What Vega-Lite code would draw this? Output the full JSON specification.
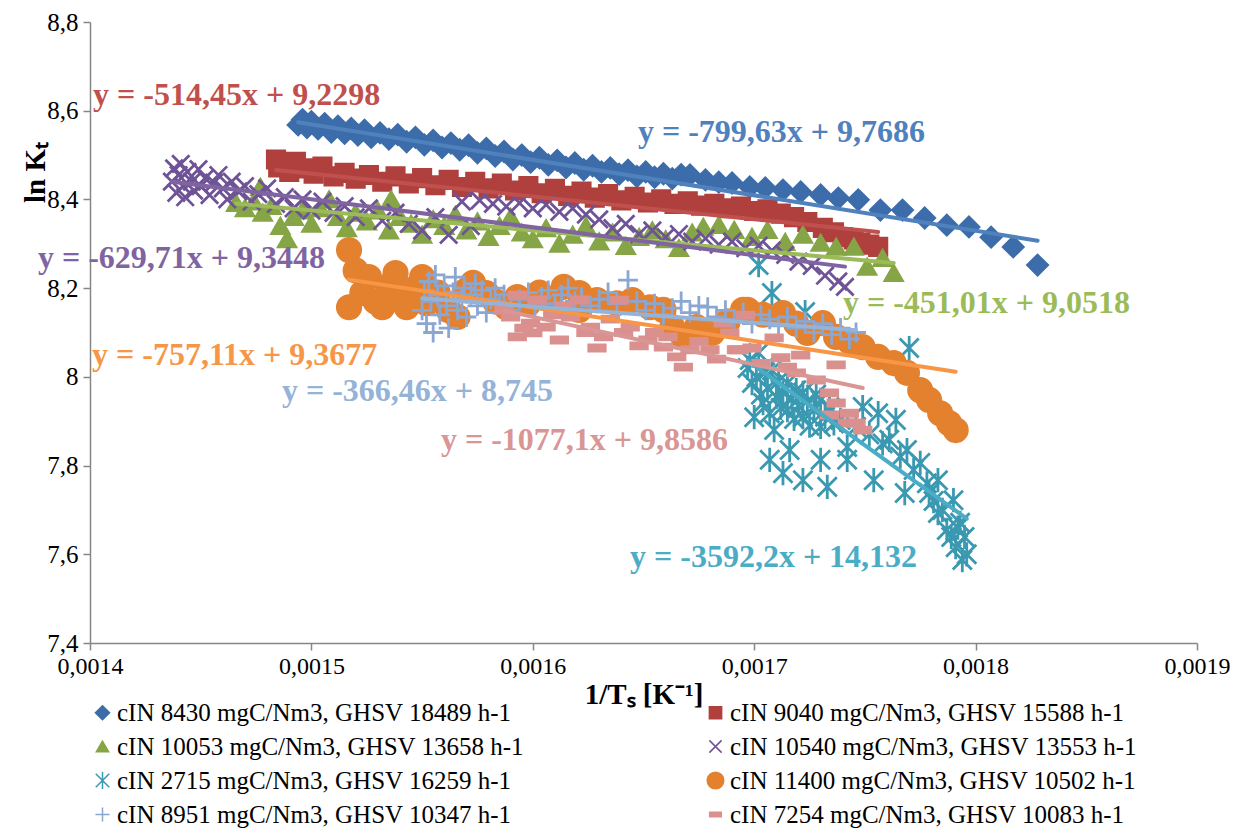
{
"$schema":"https://vega.github.io/schema/vega-lite/v6.json",
"width":1107,"height":621,
"autosize":{"type":"none"},
"padding":{"left":90,"top":22,"right":38,"bottom":191},
"background":"white",
"config":{"view":{"stroke":null},"font":"Liberation Serif, Times New Roman, serif"},
"datasets":{
"names":[{"s":1,"series":"cIN 8430 mgC/Nm3, GHSV 18489 h-1"},{"s":2,"series":"cIN 9040 mgC/Nm3, GHSV 15588 h-1"},{"s":3,"series":"cIN 10053 mgC/Nm3, GHSV 13658 h-1"},{"s":4,"series":"cIN 10540 mgC/Nm3, GHSV 13553 h-1"},{"s":5,"series":"cIN 2715 mgC/Nm3, GHSV 16259 h-1"},{"s":6,"series":"cIN 11400 mgC/Nm3, GHSV 10502 h-1"},{"s":7,"series":"cIN 8951 mgC/Nm3, GHSV 10347 h-1"},{"s":8,"series":"cIN 7254 mgC/Nm3, GHSV 10083 h-1"}],
"pts":[
{"s":1,"x":0.001494,"y":8.568},{"s":1,"x":0.001496,"y":8.580},{"s":1,"x":0.001498,"y":8.562},{"s":1,"x":0.0015,"y":8.575},{"s":1,"x":0.001503,"y":8.559},{"s":1,"x":0.001506,"y":8.571},{"s":1,"x":0.001509,"y":8.552},{"s":1,"x":0.001512,"y":8.565},{"s":1,"x":0.001515,"y":8.549},{"s":1,"x":0.001518,"y":8.560},{"s":1,"x":0.001521,"y":8.545},{"s":1,"x":0.001524,"y":8.556},{"s":1,"x":0.001527,"y":8.540},{"s":1,"x":0.001531,"y":8.550},{"s":1,"x":0.001535,"y":8.536},{"s":1,"x":0.001539,"y":8.546},{"s":1,"x":0.001543,"y":8.530},{"s":1,"x":0.001547,"y":8.540},{"s":1,"x":0.001551,"y":8.523},{"s":1,"x":0.001555,"y":8.533},{"s":1,"x":0.001559,"y":8.517},{"s":1,"x":0.001563,"y":8.527},{"s":1,"x":0.001567,"y":8.512},{"s":1,"x":0.001571,"y":8.522},{"s":1,"x":0.001575,"y":8.505},{"s":1,"x":0.001579,"y":8.515},{"s":1,"x":0.001583,"y":8.498},{"s":1,"x":0.001587,"y":8.508},{"s":1,"x":0.001591,"y":8.490},{"s":1,"x":0.001595,"y":8.500},{"s":1,"x":0.001599,"y":8.484},{"s":1,"x":0.001603,"y":8.494},{"s":1,"x":0.001607,"y":8.478},{"s":1,"x":0.001611,"y":8.488},{"s":1,"x":0.001615,"y":8.472},{"s":1,"x":0.001619,"y":8.482},{"s":1,"x":0.001623,"y":8.467},{"s":1,"x":0.001627,"y":8.476},{"s":1,"x":0.001631,"y":8.462},{"s":1,"x":0.001635,"y":8.471},{"s":1,"x":0.001639,"y":8.457},{"s":1,"x":0.001643,"y":8.466},{"s":1,"x":0.001647,"y":8.452},{"s":1,"x":0.001651,"y":8.462},{"s":1,"x":0.001655,"y":8.450},{"s":1,"x":0.001659,"y":8.458},{"s":1,"x":0.001663,"y":8.447},{"s":1,"x":0.001667,"y":8.456},{"s":1,"x":0.001671,"y":8.455},{"s":1,"x":0.001678,"y":8.444},{"s":1,"x":0.001684,"y":8.439},{"s":1,"x":0.00169,"y":8.437},{"s":1,"x":0.001698,"y":8.428},{"s":1,"x":0.001705,"y":8.426},{"s":1,"x":0.001713,"y":8.421},{"s":1,"x":0.001721,"y":8.417},{"s":1,"x":0.00173,"y":8.410},{"s":1,"x":0.001738,"y":8.403},{"s":1,"x":0.001747,"y":8.399},{"s":1,"x":0.001757,"y":8.376},{"s":1,"x":0.001767,"y":8.376},{"s":1,"x":0.001777,"y":8.358},{"s":1,"x":0.001787,"y":8.342},{"s":1,"x":0.001797,"y":8.338},{"s":1,"x":0.001807,"y":8.315},{"s":1,"x":0.001817,"y":8.293},{"s":1,"x":0.001828,"y":8.252},
{"s":2,"x":0.001484,"y":8.490},{"s":2,"x":0.001485,"y":8.472},{"s":2,"x":0.001487,"y":8.480},{"s":2,"x":0.00149,"y":8.462},{"s":2,"x":0.001493,"y":8.485},{"s":2,"x":0.001497,"y":8.470},{"s":2,"x":0.001501,"y":8.458},{"s":2,"x":0.001505,"y":8.474},{"s":2,"x":0.00151,"y":8.452},{"s":2,"x":0.001515,"y":8.460},{"s":2,"x":0.00152,"y":8.447},{"s":2,"x":0.001526,"y":8.455},{"s":2,"x":0.001532,"y":8.440},{"s":2,"x":0.001538,"y":8.452},{"s":2,"x":0.001544,"y":8.436},{"s":2,"x":0.00155,"y":8.448},{"s":2,"x":0.001556,"y":8.432},{"s":2,"x":0.001562,"y":8.444},{"s":2,"x":0.001568,"y":8.428},{"s":2,"x":0.001574,"y":8.440},{"s":2,"x":0.00158,"y":8.425},{"s":2,"x":0.001586,"y":8.436},{"s":2,"x":0.001592,"y":8.420},{"s":2,"x":0.001598,"y":8.430},{"s":2,"x":0.001604,"y":8.414},{"s":2,"x":0.00161,"y":8.424},{"s":2,"x":0.001616,"y":8.408},{"s":2,"x":0.001622,"y":8.418},{"s":2,"x":0.001628,"y":8.404},{"s":2,"x":0.001634,"y":8.412},{"s":2,"x":0.00164,"y":8.398},{"s":2,"x":0.001646,"y":8.406},{"s":2,"x":0.001652,"y":8.393},{"s":2,"x":0.001658,"y":8.400},{"s":2,"x":0.001664,"y":8.390},{"s":2,"x":0.00167,"y":8.396},{"s":2,"x":0.001676,"y":8.386},{"s":2,"x":0.001682,"y":8.390},{"s":2,"x":0.001688,"y":8.380},{"s":2,"x":0.001694,"y":8.384},{"s":2,"x":0.0017,"y":8.374},{"s":2,"x":0.001706,"y":8.378},{"s":2,"x":0.001712,"y":8.368},{"s":2,"x":0.001718,"y":8.360},{"s":2,"x":0.001724,"y":8.349},{"s":2,"x":0.001731,"y":8.336},{"s":2,"x":0.001736,"y":8.326},{"s":2,"x":0.00174,"y":8.315},{"s":2,"x":0.001745,"y":8.310},{"s":2,"x":0.001748,"y":8.302},{"s":2,"x":0.001752,"y":8.298},{"s":2,"x":0.001756,"y":8.293},
{"s":3,"x":0.001466,"y":8.392},{"s":3,"x":0.00147,"y":8.380},{"s":3,"x":0.001474,"y":8.395},{"s":3,"x":0.001477,"y":8.428},{"s":3,"x":0.001478,"y":8.370},{"s":3,"x":0.001482,"y":8.385},{"s":3,"x":0.001486,"y":8.340},{"s":3,"x":0.001489,"y":8.310},{"s":3,"x":0.001492,"y":8.360},{"s":3,"x":0.001496,"y":8.375},{"s":3,"x":0.0015,"y":8.345},{"s":3,"x":0.001504,"y":8.380},{"s":3,"x":0.001508,"y":8.400},{"s":3,"x":0.001512,"y":8.360},{"s":3,"x":0.001516,"y":8.335},{"s":3,"x":0.00152,"y":8.370},{"s":3,"x":0.001525,"y":8.350},{"s":3,"x":0.00153,"y":8.375},{"s":3,"x":0.001535,"y":8.330},{"s":3,"x":0.001536,"y":8.400},{"s":3,"x":0.00154,"y":8.360},{"s":3,"x":0.001545,"y":8.345},{"s":3,"x":0.00155,"y":8.320},{"s":3,"x":0.001555,"y":8.355},{"s":3,"x":0.00156,"y":8.340},{"s":3,"x":0.001565,"y":8.365},{"s":3,"x":0.00157,"y":8.330},{"s":3,"x":0.001575,"y":8.350},{"s":3,"x":0.00158,"y":8.315},{"s":3,"x":0.001585,"y":8.340},{"s":3,"x":0.00159,"y":8.360},{"s":3,"x":0.001595,"y":8.325},{"s":3,"x":0.0016,"y":8.310},{"s":3,"x":0.001606,"y":8.335},{"s":3,"x":0.001612,"y":8.300},{"s":3,"x":0.001618,"y":8.320},{"s":3,"x":0.001624,"y":8.340},{"s":3,"x":0.00163,"y":8.305},{"s":3,"x":0.001636,"y":8.325},{"s":3,"x":0.001642,"y":8.295},{"s":3,"x":0.001648,"y":8.315},{"s":3,"x":0.001654,"y":8.330},{"s":3,"x":0.00166,"y":8.310},{"s":3,"x":0.001666,"y":8.290},{"s":3,"x":0.001672,"y":8.325},{"s":3,"x":0.001677,"y":8.338},{"s":3,"x":0.001684,"y":8.342},{"s":3,"x":0.001691,"y":8.331},{"s":3,"x":0.001699,"y":8.315},{"s":3,"x":0.001706,"y":8.331},{"s":3,"x":0.001714,"y":8.304},{"s":3,"x":0.001722,"y":8.320},{"s":3,"x":0.00173,"y":8.302},{"s":3,"x":0.001737,"y":8.293},{"s":3,"x":0.001745,"y":8.293},{"s":3,"x":0.001751,"y":8.248},{"s":3,"x":0.001758,"y":8.268},{"s":3,"x":0.001763,"y":8.234},
{"s":4,"x":0.001437,"y":8.440},{"s":4,"x":0.001438,"y":8.470},{"s":4,"x":0.001439,"y":8.415},{"s":4,"x":0.00144,"y":8.455},{"s":4,"x":0.001441,"y":8.480},{"s":4,"x":0.001442,"y":8.430},{"s":4,"x":0.001443,"y":8.405},{"s":4,"x":0.001444,"y":8.462},{"s":4,"x":0.001446,"y":8.440},{"s":4,"x":0.001447,"y":8.420},{"s":4,"x":0.001449,"y":8.468},{"s":4,"x":0.00145,"y":8.430},{"s":4,"x":0.001452,"y":8.448},{"s":4,"x":0.001454,"y":8.410},{"s":4,"x":0.001456,"y":8.438},{"s":4,"x":0.001458,"y":8.455},{"s":4,"x":0.00146,"y":8.425},{"s":4,"x":0.001462,"y":8.400},{"s":4,"x":0.001464,"y":8.440},{"s":4,"x":0.001467,"y":8.418},{"s":4,"x":0.00147,"y":8.430},{"s":4,"x":0.001473,"y":8.395},{"s":4,"x":0.001476,"y":8.412},{"s":4,"x":0.00148,"y":8.425},{"s":4,"x":0.001484,"y":8.390},{"s":4,"x":0.001488,"y":8.405},{"s":4,"x":0.001492,"y":8.380},{"s":4,"x":0.001496,"y":8.400},{"s":4,"x":0.0015,"y":8.375},{"s":4,"x":0.001505,"y":8.395},{"s":4,"x":0.00151,"y":8.370},{"s":4,"x":0.001515,"y":8.385},{"s":4,"x":0.00152,"y":8.360},{"s":4,"x":0.001526,"y":8.380},{"s":4,"x":0.001532,"y":8.352},{"s":4,"x":0.001538,"y":8.370},{"s":4,"x":0.001544,"y":8.345},{"s":4,"x":0.00155,"y":8.330},{"s":4,"x":0.001556,"y":8.360},{"s":4,"x":0.001562,"y":8.320},{"s":4,"x":0.001568,"y":8.395},{"s":4,"x":0.001572,"y":8.340},{"s":4,"x":0.001576,"y":8.398},{"s":4,"x":0.001582,"y":8.390},{"s":4,"x":0.001588,"y":8.384},{"s":4,"x":0.001594,"y":8.392},{"s":4,"x":0.0016,"y":8.380},{"s":4,"x":0.001606,"y":8.388},{"s":4,"x":0.001612,"y":8.372},{"s":4,"x":0.001618,"y":8.380},{"s":4,"x":0.001624,"y":8.366},{"s":4,"x":0.00163,"y":8.355},{"s":4,"x":0.001636,"y":8.335},{"s":4,"x":0.001642,"y":8.345},{"s":4,"x":0.001648,"y":8.322},{"s":4,"x":0.001654,"y":8.330},{"s":4,"x":0.00166,"y":8.315},{"s":4,"x":0.001666,"y":8.322},{"s":4,"x":0.001672,"y":8.305},{"s":4,"x":0.001678,"y":8.312},{"s":4,"x":0.001684,"y":8.298},{"s":4,"x":0.00169,"y":8.305},{"s":4,"x":0.001696,"y":8.290},{"s":4,"x":0.001702,"y":8.296},{"s":4,"x":0.001708,"y":8.285},{"s":4,"x":0.001714,"y":8.275},{"s":4,"x":0.00172,"y":8.260},{"s":4,"x":0.001726,"y":8.250},{"s":4,"x":0.001732,"y":8.228},{"s":4,"x":0.001738,"y":8.215},{"s":4,"x":0.001741,"y":8.203},
{"s":5,"x":0.001702,"y":8.252},{"s":5,"x":0.001708,"y":8.189},{"s":5,"x":0.001723,"y":8.146},{"s":5,"x":0.00177,"y":8.065},{"s":5,"x":0.001697,"y":8.020},{"s":5,"x":0.001698,"y":8.038},{"s":5,"x":0.001699,"y":7.986},{"s":5,"x":0.0017,"y":7.909},{"s":5,"x":0.001701,"y":8.000},{"s":5,"x":0.001702,"y":8.054},{"s":5,"x":0.001703,"y":7.960},{"s":5,"x":0.001704,"y":7.941},{"s":5,"x":0.001705,"y":8.010},{"s":5,"x":0.001706,"y":7.975},{"s":5,"x":0.001707,"y":7.918},{"s":5,"x":0.001708,"y":8.015},{"s":5,"x":0.001709,"y":7.880},{"s":5,"x":0.00171,"y":7.955},{"s":5,"x":0.001711,"y":7.990},{"s":5,"x":0.001712,"y":7.930},{"s":5,"x":0.001713,"y":7.965},{"s":5,"x":0.001715,"y":7.986},{"s":5,"x":0.001715,"y":7.925},{"s":5,"x":0.001716,"y":7.835},{"s":5,"x":0.001717,"y":7.950},{"s":5,"x":0.001718,"y":7.905},{"s":5,"x":0.001719,"y":7.970},{"s":5,"x":0.00172,"y":7.935},{"s":5,"x":0.001722,"y":7.964},{"s":5,"x":0.001722,"y":7.909},{"s":5,"x":0.001724,"y":7.945},{"s":5,"x":0.001725,"y":7.890},{"s":5,"x":0.001727,"y":7.925},{"s":5,"x":0.001728,"y":7.960},{"s":5,"x":0.00173,"y":7.948},{"s":5,"x":0.00173,"y":7.887},{"s":5,"x":0.00173,"y":7.813},{"s":5,"x":0.001732,"y":7.910},{"s":5,"x":0.001734,"y":7.932},{"s":5,"x":0.001736,"y":7.895},{"s":5,"x":0.001739,"y":7.903},{"s":5,"x":0.001742,"y":7.842},{"s":5,"x":0.001742,"y":7.813},{"s":5,"x":0.001746,"y":7.887},{"s":5,"x":0.001749,"y":7.932},{"s":5,"x":0.001752,"y":7.870},{"s":5,"x":0.001754,"y":7.767},{"s":5,"x":0.001756,"y":7.918},{"s":5,"x":0.001758,"y":7.850},{"s":5,"x":0.001761,"y":7.858},{"s":5,"x":0.001764,"y":7.903},{"s":5,"x":0.001766,"y":7.820},{"s":5,"x":0.001768,"y":7.738},{"s":5,"x":0.001769,"y":7.835},{"s":5,"x":0.001772,"y":7.790},{"s":5,"x":0.001775,"y":7.806},{"s":5,"x":0.001778,"y":7.760},{"s":5,"x":0.001779,"y":7.738},{"s":5,"x":0.001781,"y":7.720},{"s":5,"x":0.001783,"y":7.767},{"s":5,"x":0.001783,"y":7.693},{"s":5,"x":0.001785,"y":7.700},{"s":5,"x":0.001787,"y":7.655},{"s":5,"x":0.001789,"y":7.639},{"s":5,"x":0.00179,"y":7.722},{"s":5,"x":0.001791,"y":7.616},{"s":5,"x":0.001792,"y":7.660},{"s":5,"x":0.001793,"y":7.671},{"s":5,"x":0.001794,"y":7.587},{"s":5,"x":0.001795,"y":7.639},{"s":5,"x":0.001796,"y":7.600},{"s":5,"x":0.001707,"y":7.813},{"s":5,"x":0.001713,"y":7.783},{"s":5,"x":0.001722,"y":7.767},{"s":5,"x":0.001733,"y":7.752},
{"s":6,"x":0.001517,"y":8.286},{"s":6,"x":0.001517,"y":8.157},{"s":6,"x":0.00152,"y":8.240},{"s":6,"x":0.001523,"y":8.189},{"s":6,"x":0.001526,"y":8.225},{"s":6,"x":0.001529,"y":8.170},{"s":6,"x":0.001532,"y":8.157},{"s":6,"x":0.001535,"y":8.205},{"s":6,"x":0.001538,"y":8.234},{"s":6,"x":0.001541,"y":8.185},{"s":6,"x":0.001543,"y":8.157},{"s":6,"x":0.001547,"y":8.200},{"s":6,"x":0.00155,"y":8.225},{"s":6,"x":0.001552,"y":8.166},{"s":6,"x":0.001557,"y":8.190},{"s":6,"x":0.001562,"y":8.150},{"s":6,"x":0.001566,"y":8.135},{"s":6,"x":0.00157,"y":8.195},{"s":6,"x":0.001573,"y":8.212},{"s":6,"x":0.001579,"y":8.189},{"s":6,"x":0.001583,"y":8.170},{"s":6,"x":0.001588,"y":8.157},{"s":6,"x":0.001593,"y":8.180},{"s":6,"x":0.001598,"y":8.165},{"s":6,"x":0.001603,"y":8.190},{"s":6,"x":0.001608,"y":8.175},{"s":6,"x":0.001614,"y":8.203},{"s":6,"x":0.001621,"y":8.189},{"s":6,"x":0.001621,"y":8.151},{"s":6,"x":0.001629,"y":8.173},{"s":6,"x":0.001638,"y":8.166},{"s":6,"x":0.001645,"y":8.173},{"s":6,"x":0.001653,"y":8.157},{"s":6,"x":0.001659,"y":8.151},{"s":6,"x":0.001663,"y":8.112},{"s":6,"x":0.001668,"y":8.090},{"s":6,"x":0.001674,"y":8.112},{"s":6,"x":0.001681,"y":8.099},{"s":6,"x":0.001688,"y":8.125},{"s":6,"x":0.001695,"y":8.151},{"s":6,"x":0.001697,"y":8.151},{"s":6,"x":0.001704,"y":8.140},{"s":6,"x":0.001713,"y":8.144},{"s":6,"x":0.001719,"y":8.120},{"s":6,"x":0.001724,"y":8.099},{"s":6,"x":0.001731,"y":8.121},{"s":6,"x":0.001737,"y":8.090},{"s":6,"x":0.001743,"y":8.080},{"s":6,"x":0.001749,"y":8.067},{"s":6,"x":0.001756,"y":8.045},{"s":6,"x":0.001763,"y":8.031},{"s":6,"x":0.001769,"y":8.009},{"s":6,"x":0.001775,"y":7.970},{"s":6,"x":0.001779,"y":7.948},{"s":6,"x":0.001784,"y":7.918},{"s":6,"x":0.001788,"y":7.896},{"s":6,"x":0.001791,"y":7.880},
{"s":7,"x":0.00155,"y":8.150},{"s":7,"x":0.001551,"y":8.195},{"s":7,"x":0.001552,"y":8.120},{"s":7,"x":0.001553,"y":8.215},{"s":7,"x":0.001554,"y":8.170},{"s":7,"x":0.001555,"y":8.100},{"s":7,"x":0.001556,"y":8.230},{"s":7,"x":0.001557,"y":8.185},{"s":7,"x":0.001558,"y":8.140},{"s":7,"x":0.00156,"y":8.205},{"s":7,"x":0.001561,"y":8.160},{"s":7,"x":0.001562,"y":8.110},{"s":7,"x":0.001564,"y":8.190},{"s":7,"x":0.001565,"y":8.225},{"s":7,"x":0.001566,"y":8.150},{"s":7,"x":0.001568,"y":8.175},{"s":7,"x":0.001569,"y":8.200},{"s":7,"x":0.00157,"y":8.135},{"s":7,"x":0.001572,"y":8.185},{"s":7,"x":0.001574,"y":8.210},{"s":7,"x":0.001575,"y":8.160},{"s":7,"x":0.001577,"y":8.195},{"s":7,"x":0.001579,"y":8.145},{"s":7,"x":0.001581,"y":8.175},{"s":7,"x":0.001583,"y":8.200},{"s":7,"x":0.001585,"y":8.165},{"s":7,"x":0.001587,"y":8.185},{"s":7,"x":0.00159,"y":8.150},{"s":7,"x":0.001594,"y":8.175},{"s":7,"x":0.001598,"y":8.190},{"s":7,"x":0.001601,"y":8.160},{"s":7,"x":0.001604,"y":8.180},{"s":7,"x":0.001607,"y":8.195},{"s":7,"x":0.00161,"y":8.165},{"s":7,"x":0.001613,"y":8.185},{"s":7,"x":0.001616,"y":8.200},{"s":7,"x":0.001619,"y":8.170},{"s":7,"x":0.001622,"y":8.180},{"s":7,"x":0.001626,"y":8.160},{"s":7,"x":0.00163,"y":8.175},{"s":7,"x":0.001634,"y":8.190},{"s":7,"x":0.001638,"y":8.165},{"s":7,"x":0.001643,"y":8.218},{"s":7,"x":0.001647,"y":8.170},{"s":7,"x":0.001651,"y":8.150},{"s":7,"x":0.001655,"y":8.165},{"s":7,"x":0.001659,"y":8.140},{"s":7,"x":0.001663,"y":8.155},{"s":7,"x":0.001667,"y":8.170},{"s":7,"x":0.001671,"y":8.145},{"s":7,"x":0.001675,"y":8.160},{"s":7,"x":0.001679,"y":8.157},{"s":7,"x":0.001683,"y":8.135},{"s":7,"x":0.001687,"y":8.150},{"s":7,"x":0.001691,"y":8.130},{"s":7,"x":0.001695,"y":8.145},{"s":7,"x":0.001699,"y":8.120},{"s":7,"x":0.001703,"y":8.140},{"s":7,"x":0.001707,"y":8.130},{"s":7,"x":0.001711,"y":8.115},{"s":7,"x":0.001715,"y":8.135},{"s":7,"x":0.001719,"y":8.110},{"s":7,"x":0.001723,"y":8.125},{"s":7,"x":0.001727,"y":8.100},{"s":7,"x":0.001731,"y":8.120},{"s":7,"x":0.001735,"y":8.095},{"s":7,"x":0.001739,"y":8.110},{"s":7,"x":0.001743,"y":8.085},{"s":7,"x":0.001746,"y":8.100},
{"s":8,"x":0.001587,"y":8.150},{"s":8,"x":0.00159,"y":8.135},{"s":8,"x":0.001593,"y":8.184},{"s":8,"x":0.001593,"y":8.090},{"s":8,"x":0.001596,"y":8.110},{"s":8,"x":0.001599,"y":8.121},{"s":8,"x":0.0016,"y":8.099},{"s":8,"x":0.001602,"y":8.173},{"s":8,"x":0.001606,"y":8.112},{"s":8,"x":0.001609,"y":8.140},{"s":8,"x":0.001612,"y":8.083},{"s":8,"x":0.001614,"y":8.160},{"s":8,"x":0.001617,"y":8.135},{"s":8,"x":0.001621,"y":8.173},{"s":8,"x":0.001624,"y":8.100},{"s":8,"x":0.001626,"y":8.112},{"s":8,"x":0.001629,"y":8.065},{"s":8,"x":0.001632,"y":8.090},{"s":8,"x":0.001635,"y":8.130},{"s":8,"x":0.001639,"y":8.173},{"s":8,"x":0.001641,"y":8.100},{"s":8,"x":0.001644,"y":8.112},{"s":8,"x":0.001648,"y":8.070},{"s":8,"x":0.001652,"y":8.083},{"s":8,"x":0.001655,"y":8.100},{"s":8,"x":0.001659,"y":8.067},{"s":8,"x":0.001661,"y":8.090},{"s":8,"x":0.001665,"y":8.045},{"s":8,"x":0.001668,"y":8.022},{"s":8,"x":0.001671,"y":8.061},{"s":8,"x":0.001675,"y":8.080},{"s":8,"x":0.00168,"y":8.061},{"s":8,"x":0.001683,"y":8.040},{"s":8,"x":0.001686,"y":8.121},{"s":8,"x":0.001689,"y":8.099},{"s":8,"x":0.001692,"y":8.061},{"s":8,"x":0.001693,"y":8.061},{"s":8,"x":0.001696,"y":8.139},{"s":8,"x":0.001699,"y":8.065},{"s":8,"x":0.001703,"y":8.030},{"s":8,"x":0.001709,"y":8.088},{"s":8,"x":0.001712,"y":8.043},{"s":8,"x":0.001715,"y":8.022},{"s":8,"x":0.001719,"y":8.009},{"s":8,"x":0.001721,"y":8.049},{"s":8,"x":0.001728,"y":7.993},{"s":8,"x":0.001734,"y":7.964},{"s":8,"x":0.001734,"y":7.914},{"s":8,"x":0.001737,"y":8.027},{"s":8,"x":0.001737,"y":7.941},{"s":8,"x":0.001742,"y":7.896},{"s":8,"x":0.001743,"y":7.918},{"s":8,"x":0.001746,"y":7.896},{"s":8,"x":0.001749,"y":7.880}
],
"trend":[
{"s":1,"x":0.001494,"y":8.5740},{"s":1,"x":0.001828,"y":8.3069},
{"s":2,"x":0.001484,"y":8.4664},{"s":2,"x":0.001756,"y":8.3264},
{"s":3,"x":0.001466,"y":8.3906},{"s":3,"x":0.001763,"y":8.2567},
{"s":4,"x":0.001437,"y":8.4399},{"s":4,"x":0.001741,"y":8.2485},
{"s":5,"x":0.001697,"y":8.0360},{"s":5,"x":0.001796,"y":7.6804},
{"s":6,"x":0.001517,"y":8.2192},{"s":6,"x":0.001791,"y":8.0117},
{"s":7,"x":0.00155,"y":8.1770},{"s":7,"x":0.001746,"y":8.1052},
{"s":8,"x":0.001587,"y":8.1492},{"s":8,"x":0.001749,"y":7.9748}
],
"eqs":[
{"s":2,"x":0.0014014,"y":8.6354,"label":"y = -514,45x + 9,2298"},
{"s":1,"x":0.0016475,"y":8.5519,"label":"y = -799,63x + 9,7686"},
{"s":4,"x":0.0013765,"y":8.2670,"label":"y = -629,71x + 9,3448"},
{"s":3,"x":0.0017401,"y":8.1665,"label":"y = -451,01x + 9,0518"},
{"s":6,"x":0.0014009,"y":8.0492,"label":"y = -757,11x + 9,3677"},
{"s":7,"x":0.0014867,"y":7.9681,"label":"y = -366,46x + 8,745"},
{"s":8,"x":0.0015585,"y":7.8576,"label":"y = -1077,1x + 9,8586"},
{"s":5,"x":0.0016439,"y":7.5939,"label":"y = -3592,2x + 14,132"}
]
},
"encoding":{
"x":{"field":"x","type":"quantitative","scale":{"domain":[0.0014,0.0019],"nice":false,"zero":false},
 "axis":{"values":[0.0014,0.0015,0.0016,0.0017,0.0018,0.0019],"labelExpr":"replace(toString(datum.value),'.',',')","grid":false,"domainColor":"#868686","domainWidth":1.5,"tickColor":"#868686","tickWidth":1.5,"tickSize":7,"labelFont":"Liberation Serif, Times New Roman, serif","labelFontSize":24,"labelColor":"black","labelPadding":4,"labelFlush":false,"labelOverlap":false,"title":"1/Tₛ [K⁻¹]","titleFont":"Liberation Serif, Times New Roman, serif","titleFontSize":29,"titleFontWeight":"bold","titleColor":"black","titleY":37,"titleBaseline":"top"}},
"y":{"field":"y","type":"quantitative","scale":{"domain":[7.4,8.8],"nice":false,"zero":false},
 "axis":{"values":[7.4,7.6,7.8,8,8.2,8.4,8.6,8.8],"labelExpr":"replace(toString(datum.value),'.',',')","grid":false,"domainColor":"#868686","domainWidth":1.5,"tickColor":"#868686","tickWidth":1.5,"tickSize":7,"labelFont":"Liberation Serif, Times New Roman, serif","labelFontSize":25,"labelColor":"black","labelPadding":5,"labelOverlap":false,"title":"ln Kₜ","titleFont":"Liberation Serif, Times New Roman, serif","titleFontSize":29,"titleFontWeight":"bold","titleColor":"black","titleX":-46,"titleY":150,"titleBaseline":"alphabetic","titleAngle":270}}
},
"layer":[
{"data":{"name":"pts"},
 "transform":[{"lookup":"s","from":{"data":{"name":"names"},"key":"s","fields":["series"]}}],
 "mark":{"type":"point","filled":true,"opacity":1,"strokeWidth":2.8},
 "encoding":{
  "size":{"value":300},
  "color":{"field":"series","type":"nominal","scale":{"domain":["cIN 8430 mgC/Nm3, GHSV 18489 h-1","cIN 9040 mgC/Nm3, GHSV 15588 h-1","cIN 10053 mgC/Nm3, GHSV 13658 h-1","cIN 10540 mgC/Nm3, GHSV 13553 h-1","cIN 2715 mgC/Nm3, GHSV 16259 h-1","cIN 11400 mgC/Nm3, GHSV 10502 h-1","cIN 8951 mgC/Nm3, GHSV 10347 h-1","cIN 7254 mgC/Nm3, GHSV 10083 h-1"],"range":["#3C6DAA","#B0403D","#85A546","#6E5396","#3A99B1","#E3812F","#8BA7D1","#D9908E"]},
   "legend":{"title":null,"orient":"none","direction":"horizontal","legendX":0,"legendY":678,"columns":2,"columnPadding":179,"rowPadding":8,"labelFont":"Liberation Serif, Times New Roman, serif","labelFontSize":25,"labelColor":"black","labelLimit":700,"symbolSize":150,"labelOffset":2,"symbolStrokeWidth":1.5}},
  "stroke":{"field":"series","type":"nominal","scale":{"domain":["cIN 8430 mgC/Nm3, GHSV 18489 h-1","cIN 9040 mgC/Nm3, GHSV 15588 h-1","cIN 10053 mgC/Nm3, GHSV 13658 h-1","cIN 10540 mgC/Nm3, GHSV 13553 h-1","cIN 2715 mgC/Nm3, GHSV 16259 h-1","cIN 11400 mgC/Nm3, GHSV 10502 h-1","cIN 8951 mgC/Nm3, GHSV 10347 h-1","cIN 7254 mgC/Nm3, GHSV 10083 h-1"],"range":["#3C6DAA","#B0403D","#85A546","#6E5396","#3A99B1","#E3812F","#8BA7D1","#D9908E"]},
   "legend":{"title":null,"orient":"none","direction":"horizontal","legendX":0,"legendY":678,"columns":2,"columnPadding":179,"rowPadding":8,"labelFont":"Liberation Serif, Times New Roman, serif","labelFontSize":25,"labelColor":"black","labelLimit":700,"symbolSize":150,"labelOffset":2,"symbolStrokeWidth":1.5}},
  "shape":{"field":"series","type":"nominal","scale":{"domain":["cIN 8430 mgC/Nm3, GHSV 18489 h-1","cIN 9040 mgC/Nm3, GHSV 15588 h-1","cIN 10053 mgC/Nm3, GHSV 13658 h-1","cIN 10540 mgC/Nm3, GHSV 13553 h-1","cIN 2715 mgC/Nm3, GHSV 16259 h-1","cIN 11400 mgC/Nm3, GHSV 10502 h-1","cIN 8951 mgC/Nm3, GHSV 10347 h-1","cIN 7254 mgC/Nm3, GHSV 10083 h-1"],"range":["M0,-1.15L1.15,0L0,1.15L-1.15,0Z","square","triangle-up","M-1,-1L1,1M-1,1L1,-1","M-1.1,-1.1L1.1,1.1M-1.1,1.1L1.1,-1.1M0,-1.4L0,1.4","M-1.35,0A1.35,1.35 0 1,0 1.35,0A1.35,1.35 0 1,0 -1.35,0Z","M-1.15,0L1.15,0M0,-1.15L0,1.15","M-0.95,-0.35L0.95,-0.35L0.95,0.35L-0.95,0.35Z"]},
   "legend":{"title":null,"orient":"none","direction":"horizontal","legendX":0,"legendY":678,"columns":2,"columnPadding":179,"rowPadding":8,"labelFont":"Liberation Serif, Times New Roman, serif","labelFontSize":25,"labelColor":"black","labelLimit":700,"symbolSize":150,"labelOffset":2,"symbolStrokeWidth":1.5}}
 }},
{"data":{"name":"trend"},
 "transform":[{"lookup":"s","from":{"data":{"name":"names"},"key":"s","fields":["series"]}}],
 "mark":{"type":"line","strokeWidth":4,"strokeCap":"round"},
 "encoding":{
  "color":{"field":"series","type":"nominal","scale":{"domain":["cIN 8430 mgC/Nm3, GHSV 18489 h-1","cIN 9040 mgC/Nm3, GHSV 15588 h-1","cIN 10053 mgC/Nm3, GHSV 13658 h-1","cIN 10540 mgC/Nm3, GHSV 13553 h-1","cIN 2715 mgC/Nm3, GHSV 16259 h-1","cIN 11400 mgC/Nm3, GHSV 10502 h-1","cIN 8951 mgC/Nm3, GHSV 10347 h-1","cIN 7254 mgC/Nm3, GHSV 10083 h-1"],"range":["#4F81BD","#C0504D","#9BBB59","#8064A2","#4BACC6","#F79646","#95B3D7","#D99694"]},"legend":null}
 }},
{"data":{"name":"eqs"},
 "transform":[{"lookup":"s","from":{"data":{"name":"names"},"key":"s","fields":["series"]}}],
 "mark":{"type":"text","align":"left","baseline":"middle","font":"Liberation Serif, Times New Roman, serif","fontWeight":"bold","fontSize":32},
 "encoding":{
  "text":{"field":"label","type":"nominal"},
  "color":{"field":"series","type":"nominal","scale":{"domain":["cIN 8430 mgC/Nm3, GHSV 18489 h-1","cIN 9040 mgC/Nm3, GHSV 15588 h-1","cIN 10053 mgC/Nm3, GHSV 13658 h-1","cIN 10540 mgC/Nm3, GHSV 13553 h-1","cIN 2715 mgC/Nm3, GHSV 16259 h-1","cIN 11400 mgC/Nm3, GHSV 10502 h-1","cIN 8951 mgC/Nm3, GHSV 10347 h-1","cIN 7254 mgC/Nm3, GHSV 10083 h-1"],"range":["#4F81BD","#C0504D","#9BBB59","#8064A2","#4BACC6","#F79646","#95B3D7","#D99694"]},"legend":null}
 }}
],
"resolve":{"scale":{"color":"independent","stroke":"independent","shape":"independent"}}
}
